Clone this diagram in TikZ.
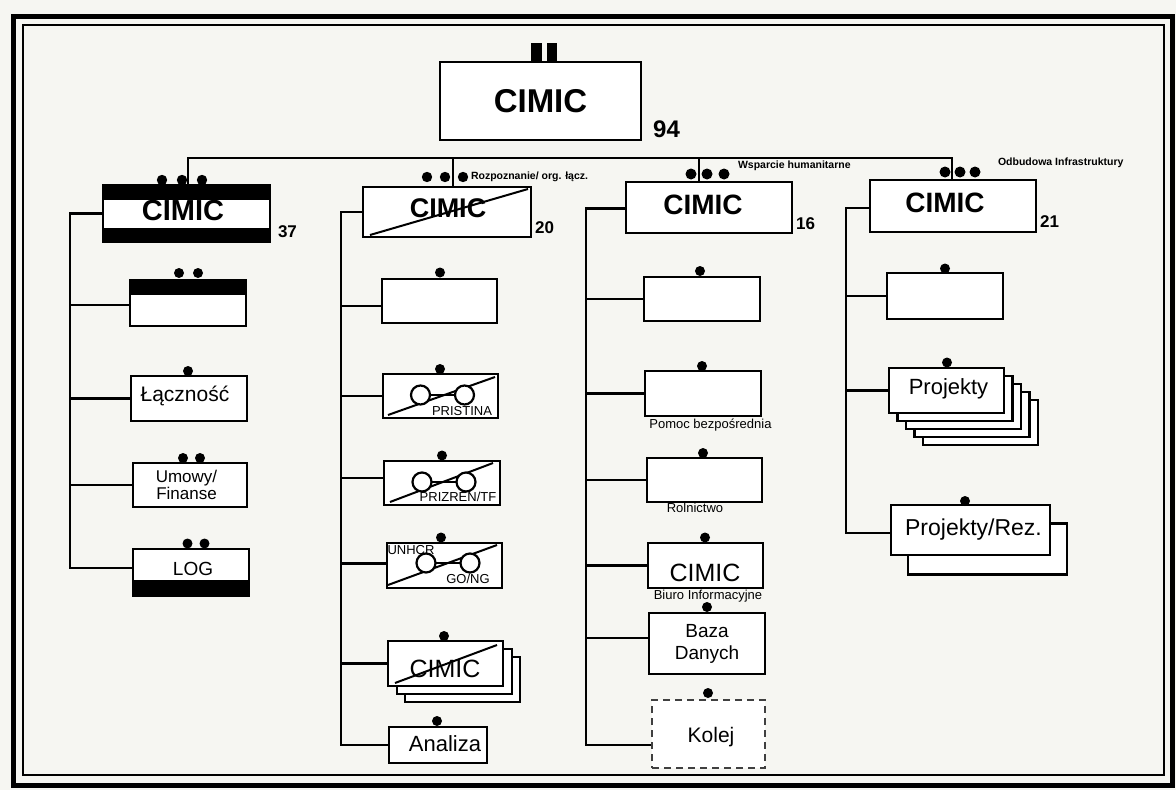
\documentclass[tikz,border=0pt]{standalone}
\usepackage{fontspec}
\setmainfont{Liberation Sans}
\newcommand{\myfs}[1]{\fontsize{#1pt}{#1pt}\selectfont}
\definecolor{bgc}{RGB}{246,246,242}
\begin{document}
\begin{tikzpicture}[x=1pt,y=-1pt,
 bx/.style={draw, line width=2.8pt, fill=white, inner sep=0pt, outer sep=0pt},
 conn/.style={line width=2.6pt},
 diag/.style={line width=2pt},
 lbl/.style={inner sep=0pt, outer sep=0pt, text=black},
 bigc/.style={lbl, font=\bfseries\myfs{28}},
 num/.style={lbl, font=\bfseries\myfs{17}},
 capt/.style={lbl, font=\bfseries\myfs{10.5}, anchor=west},
 small/.style={lbl, font=\myfs{13}},
 ring/.style={draw, line width=2.2pt, fill=white},
 dashbox/.style={draw=black!75, line width=1.4pt, dash pattern=on 7pt off 5pt, fill=white, inner sep=0pt}
]
\fill[bgc] (0,0) rectangle (1176,790);
\useasboundingbox (0,0) rectangle (1176,790);
% frame
\draw[line width=5pt] (13,16) rectangle (1172,785);
\draw[line width=2.8pt] (23,25) rectangle (1164,775);

% ---------- top ----------
\node[bx, minimum width=201pt, minimum height=78pt] (Top) at (540.5,101) {};
\node[lbl, font=\bfseries\myfs{33}] (tTop) at (Top.center) {CIMIC};
\fill (531,43) rectangle (542,62);
\fill (547,43) rectangle (557,62);
\node[lbl, font=\bfseries\myfs{24}] (t94) at (666.5,129) {94};

% ---------- level 2 boxes ----------
\node[bx, minimum width=167pt, minimum height=57pt] (C37) at (186.5,213.5) {};
\node[bx, minimum width=168pt, minimum height=50pt] (C20) at (447,212) {};
\node[bx, minimum width=166pt, minimum height=51pt] (C16) at (709,207.5) {};
\node[bx, minimum width=166pt, minimum height=52pt] (C21) at (953,206) {};

% bus
\coordinate (bus) at (0,158);
\draw[conn] ([xshift=1.5pt]C37.north) -- ([xshift=1.5pt]C37.north |- bus) -- ([xshift=-1pt]C21.north |- bus) -- ([xshift=-1pt]C21.north);
\draw[conn] ([xshift=6pt]C20.north) -- ([xshift=6pt]C20.north |- bus);
\draw[conn] ([xshift=-10pt]C16.north) -- ([xshift=-10pt]C16.north |- bus);

% column spines
\coordinate (k1) at (70,0);
\coordinate (k2) at (341,0);
\coordinate (k3) at (586,0);
\coordinate (k4) at (846,0);

% ---------- column 1 ----------
\node[bx, minimum width=116pt, minimum height=46pt] (A1) at (188,303) {};
\node[bx, minimum width=116pt, minimum height=45pt] (L1) at (189,398.5) {};
\node[bx, minimum width=114pt, minimum height=44pt] (U1) at (190,485) {};
\node[bx, minimum width=116pt, minimum height=47pt] (LOG) at (191,572.5) {};

\draw[conn] (C37.west) -- (C37.west -| k1) -- ([yshift=4.5pt]LOG.west -| k1) -- ([yshift=4.5pt]LOG.west);
\draw[conn] ([yshift=-2pt]A1.west -| k1) -- ([yshift=-2pt]A1.west);
\draw[conn] (L1.west -| k1) -- (L1.west);
\draw[conn] (U1.west -| k1) -- (U1.west);

% black bands
\fill (C37.north west) rectangle ([yshift=-15pt]C37.north east);
\fill (C37.south west) rectangle ([yshift=14pt]C37.south east);
\draw[line width=2.8pt] (C37.north west) rectangle (C37.south east);
\fill (A1.north west) rectangle ([yshift=-15pt]A1.north east);
\fill (LOG.south west) rectangle ([yshift=16pt]LOG.south east);

\node[bigc, font=\bfseries\myfs{29}] (t37c) at (183,211) {CIMIC};
\node[num] (t37) at (287.5,231.5) {37};
\node[lbl, font=\myfs{21}] (tL1) at (185,396) {Łączność};
\node[lbl, font={\fontsize{17pt}{15pt}\selectfont}, align=center] (tU1) at (186.5,485) {Umowy/\\Finanse};
\node[lbl, font=\myfs{19}] (tLOG) at (193,569) {LOG};

% ---------- column 2 ----------
\node[bx, minimum width=115pt, minimum height=44pt] (B1) at (439.5,301) {};
\node[bx, minimum width=115pt, minimum height=44pt] (B2) at (440.5,396) {};
\node[bx, minimum width=116pt, minimum height=44pt] (B3) at (442,483) {};
\node[bx, minimum width=115pt, minimum height=45pt] (B4) at (444.5,565.5) {};
\node[bx, minimum width=115pt, minimum height=45pt] (B5c) at (462.5,679.5) {};
\node[bx, minimum width=115pt, minimum height=45pt] (B5b) at (454.5,671.5) {};
\node[bx, minimum width=115pt, minimum height=45pt] (B5) at (445.5,663.5) {};
\node[bx, minimum width=98pt, minimum height=36pt] (B6) at (438,745) {};

\draw[conn] (C20.west) -- (C20.west -| k2) -- (B6.west -| k2) -- (B6.west);
\draw[conn] ([yshift=-5pt]B1.west -| k2) -- ([yshift=-5pt]B1.west);
\draw[conn] (B2.west -| k2) -- (B2.west);
\draw[conn] ([yshift=5pt]B3.west -| k2) -- ([yshift=5pt]B3.west);
\draw[conn] ([yshift=2pt]B4.west -| k2) -- ([yshift=2pt]B4.west);
\draw[conn] (B5.west -| k2) -- (B5.west);

\node[bigc, font=\bfseries\myfs{27}] (t20c) at (448,208) {CIMIC};
\draw[diag] ([xshift=7pt,yshift=2pt]C20.south west) -- ([xshift=-3pt,yshift=-2pt]C20.north east);
\node[num] (t20) at (544.5,228) {20};
\node[capt] (tRoz) at (471,177) {Rozpoznanie/ org. łącz.};

% PRISTINA
\draw[diag] ([xshift=5pt,yshift=3pt]B2.south west) -- ([xshift=-3pt,yshift=-3pt]B2.north east);
\draw[conn] ([xshift=-20pt,yshift=1pt]B2.center) -- ([xshift=24pt,yshift=1pt]B2.center);
\draw[ring] ([xshift=-20pt,yshift=1pt]B2.center) circle (9.5pt);
\draw[ring] ([xshift=24pt,yshift=1pt]B2.center) circle (9.5pt);
\node[small] (tPR) at (462,411) {PRISTINA};
% PRIZREN
\draw[diag] ([xshift=6pt,yshift=3pt]B3.south west) -- ([xshift=-7pt,yshift=-2pt]B3.north east);
\draw[conn] ([xshift=-20pt,yshift=1pt]B3.center) -- ([xshift=24pt,yshift=1pt]B3.center);
\draw[ring] ([xshift=-20pt,yshift=1pt]B3.center) circle (9.5pt);
\draw[ring] ([xshift=24pt,yshift=1pt]B3.center) circle (9.5pt);
\node[small] (tPZ) at (458,497) {PRIZREN/TF};
% UNHCR
\draw[diag] ([xshift=1pt,yshift=3pt]B4.south west) -- ([xshift=-5pt,yshift=-2pt]B4.north east);
\draw[conn] ([xshift=-18.5pt,yshift=2.5pt]B4.center) -- ([xshift=25.5pt,yshift=2.5pt]B4.center);
\draw[ring] ([xshift=-18.5pt,yshift=2.5pt]B4.center) circle (9.5pt);
\draw[ring] ([xshift=25.5pt,yshift=2.5pt]B4.center) circle (9.5pt);
\node[small] (tUN) at (411,550) {UNHCR};
\node[small] (tGO) at (468,579) {GO/NG};
% CIMIC stack
\node[lbl, font=\myfs{25}] (tB5) at (445,669) {CIMIC};
\draw[diag] ([xshift=7pt,yshift=3pt]B5.south west) -- ([xshift=-6pt,yshift=-4pt]B5.north east);
\node[lbl, font=\myfs{22}] (tB6) at (445,744) {Analiza};

% ---------- column 3 ----------
\node[bx, minimum width=116pt, minimum height=44pt] (E1) at (702,299) {};
\node[bx, minimum width=116pt, minimum height=45pt] (E2) at (703,393.5) {};
\node[bx, minimum width=115pt, minimum height=44pt] (E3) at (704.5,480) {};
\node[bx, minimum width=115pt, minimum height=45pt] (E4) at (705.5,565.5) {};
\node[bx, minimum width=116pt, minimum height=61pt] (E5) at (707,643.5) {};
\node[dashbox, minimum width=113pt, minimum height=68pt] (E6) at (708.5,734) {};

\draw[conn] ([yshift=-1pt]C16.west) -- ([yshift=-1pt]C16.west -| k3) -- ([yshift=-11pt]E6.west -| k3) -- ([yshift=-11pt]E6.west);
\draw[conn] (E1.west -| k3) -- (E1.west);
\draw[conn] (E2.west -| k3) -- (E2.west);
\draw[conn] (E3.west -| k3) -- (E3.west);
\draw[conn] (E4.west -| k3) -- (E4.west);
\draw[conn] ([yshift=5.5pt]E5.west -| k3) -- ([yshift=5.5pt]E5.west);

\node[bigc] (t16c) at (703,205) {CIMIC};
\node[num] (t16) at (805.5,223.5) {16};
\node[capt] (tWsp) at (738,166) {Wsparcie humanitarne};
\node[small] (tPom) at (710.5,425) {Pomoc bezpośrednia};
\node[small] (tRol) at (695,508) {Rolnictwo};
\node[lbl, font=\myfs{25}] (tE4) at (705,572.5) {CIMIC};
\node[small] (tBiu) at (708,596) {Biuro Informacyjne};
\node[lbl, font={\fontsize{19pt}{22pt}\selectfont}, align=center] (tE5) at (707,644) {Baza\\Danych};
\node[lbl, font=\myfs{21}] (tE6) at (711,737) {Kolej};

% ---------- column 4 ----------
\node[bx, minimum width=116pt, minimum height=46pt] (D1) at (945,296) {};
\node[bx, minimum width=115pt, minimum height=45pt] (D2d) at (980.5,422.5) {};
\node[bx, minimum width=115pt, minimum height=45pt] (D2c) at (972,414.5) {};
\node[bx, minimum width=115pt, minimum height=45pt] (D2b) at (963.5,406.5) {};
\node[bx, minimum width=115pt, minimum height=45pt] (D2a) at (955,398.5) {};
\node[bx, minimum width=115pt, minimum height=45pt] (D2) at (946.5,390.5) {};
\node[bx, minimum width=159pt, minimum height=51pt] (D3b) at (987.5,549) {};
\node[bx, minimum width=159pt, minimum height=50pt] (D3) at (970.5,530) {};

\draw[conn] ([yshift=-2pt]C21.west) -- ([yshift=-2pt]C21.west -| k4) -- ([yshift=-3pt]D3.west -| k4) -- ([yshift=-3pt]D3.west);
\draw[conn] (D1.west -| k4) -- (D1.west);
\draw[conn] (D2.west -| k4) -- (D2.west);

\node[bigc] (t21c) at (945,203) {CIMIC};
\node[num] (t21) at (1049.5,221.5) {21};
\node[capt] (tOdb) at (998,163) {Odbudowa Infrastruktury};
\node[lbl, font=\myfs{22}] (tD2) at (948.5,389) {Projekty};
\node[lbl, font=\myfs{23}] (tD3) at (973.5,530) {Projekty/Rez.};

% ---------- dots ----------
\foreach \x/\y/\r in {162/180/5.2,182/180/5.2,202/180/5.2,
  427/177/5.2,445/177/5.2,463/177/5.2,
  691/174/5.5,707/174/5.5,724/174/5.5,
  945/172/5.5,960/172/5.5,975/172/5.5,
  179/273/5,198/273/5, 188/371/5, 183/458/5,200/458/5, 187.5/543.5/5,204.5/543.5/5,
  440/272.5/5, 440/369/5, 442/455.5/5, 441/537.5/5, 444/636/5, 437/721/5,
  700/271/5, 702/366/5, 703/453/5, 705/537.5/5, 707/607/5, 708/693/5,
  945/268.5/5, 947/362.5/5, 965/501/5}
  \fill (\x,\y) circle (\r pt);
\end{tikzpicture}
\end{document}
